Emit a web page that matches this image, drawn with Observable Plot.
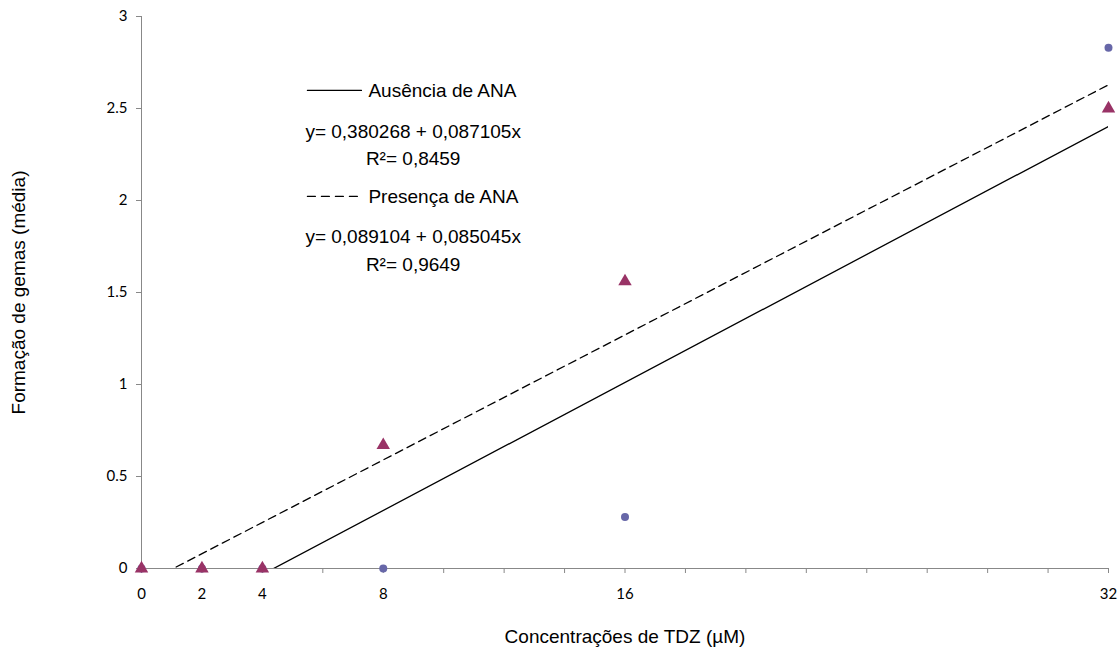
<!DOCTYPE html>
<html><head><meta charset="utf-8">
<script src="https://cdn.jsdelivr.net/npm/d3@7"></script>
<script src="https://cdn.jsdelivr.net/npm/@observablehq/plot@0.6"></script>
<style>html,body{margin:0;padding:0;background:#fff} svg{display:block}</style>
</head><body><div id="chart"></div>
<script>
// Data
const doses = [0, 2, 4, 8, 16, 32];
const ausencia = [0, 0, 0, 0, 0.28, 2.83];
const presenca = [0, 0, 0, 0.67, 1.56, 2.5];
const xTickLabels = [0, 2, 4, 8, 16, 32];
const xMinorTicks = [0, 2, 4, 6, 8, 10, 12, 14, 16, 18, 20, 22, 24, 26, 28, 30, 32];
const yTicks = [0, 0.5, 1, 1.5, 2, 2.5, 3];
const xTitle = "Concentrações de TDZ (µM)";
const yTitle = "Formação de gemas (média)";
// annotation block (legend entries, equations, R²), positioned in data units
const legendNames = ["Ausência de ANA", "Presença de ANA"];
const legendY = [2.598, 2.022];
const legendLineX = [5.49, 7.28];
const legendTextX = [7.51, 7.51];
const equations = ["y= 0,380268 + 0,087105x", "y= 0,089104 + 0,085045x"];
const equationY = [2.375, 1.804];
const r2Texts = ["R²= 0,8459", "R²= 0,9649"];
const r2Y = [2.228, 1.652];
const annotX = 8.99;

const rows = doses.map((d, i) => ({x: d, a: ausencia[i], p: presenca[i]}));
const legendRows = legendNames.map((n, i) => ({name: n, y: legendY[i], i}));
const legendSeg = legendRows.flatMap(r => legendLineX.map(x => ({x, y: r.y, i: r.i})));
const eqRows = equations.map((e, i) => ({t: e, y: equationY[i]}));
const r2Rows = r2Texts.map((t, i) => ({t, y: r2Y[i]}));

const tickFont = "Lato, 'Open Sans', sans-serif";
const textFont = "'Liberation Sans', Arial, sans-serif";

const chart = Plot.plot({
  width: 1118,
  height: 653,
  marginLeft: 141,
  marginRight: 10,
  marginTop: 16,
  marginBottom: 85,
  style: {background: "#fff", fontFamily: textFont},
  x: {domain: [0, 32]},
  y: {domain: [0, 3]},
  marks: [
    Plot.ruleY([0], {stroke: "#888"}),
    Plot.ruleX([0], {stroke: "#888"}),
    Plot.axisY(yTicks, {tickSize: 5, tickPadding: 9, stroke: "#888", fill: "#000", fontSize: 15, fontFamily: tickFont, label: null, tickFormat: d => String(d)}),
    Plot.axisX(xMinorTicks, {tickSize: 5, stroke: "#888", tickFormat: () => "", label: null}),
    Plot.axisX(xTickLabels, {tickSize: 0, tickPadding: 20, fill: "#000", fontSize: 15, fontFamily: tickFont, label: null, tickFormat: d => String(d)}),
    Plot.text([xTitle], {frameAnchor: "bottom", textAnchor: "middle", dy: 74, fontSize: 19, fontFamily: textFont, fill: "#000"}),
    Plot.text([yTitle], {frameAnchor: "left", textAnchor: "middle", dx: -123, rotate: -90, fontSize: 19, fontFamily: textFont, fill: "#000"}),
    Plot.linearRegressionY(rows, {x: "x", y: "a", stroke: "#000", strokeWidth: 1.3, ci: 0, clip: true}),
    Plot.linearRegressionY(rows, {x: "x", y: "p", stroke: "#000", strokeWidth: 1.3, strokeDasharray: "8,5", ci: 0, clip: true}),
    Plot.dot(rows, {x: "x", y: "a", r: 4, fill: "#6767A8", stroke: "none"}),
    Plot.dot(rows, {x: "x", y: "p", symbol: "triangle", r: 5, fill: "#993366", stroke: "none"}),
    Plot.line(legendSeg.filter(d => d.i === 0), {x: "x", y: "y", stroke: "#000", strokeWidth: 1.2}),
    Plot.line(legendSeg.filter(d => d.i === 1), {x: "x", y: "y", stroke: "#000", strokeWidth: 1.2, strokeDasharray: "8,6"}),
    Plot.text(legendRows, {x: () => legendTextX[0], y: "y", text: "name", textAnchor: "start", fontSize: 19, fill: "#000"}),
    Plot.text(eqRows, {x: () => annotX, y: "y", text: "t", fontSize: 19, fill: "#000"}),
    Plot.text(r2Rows, {x: () => annotX, y: "y", text: "t", fontSize: 19, fill: "#000"})
  ]
});
document.getElementById("chart").appendChild(chart);
</script>
</body></html>
